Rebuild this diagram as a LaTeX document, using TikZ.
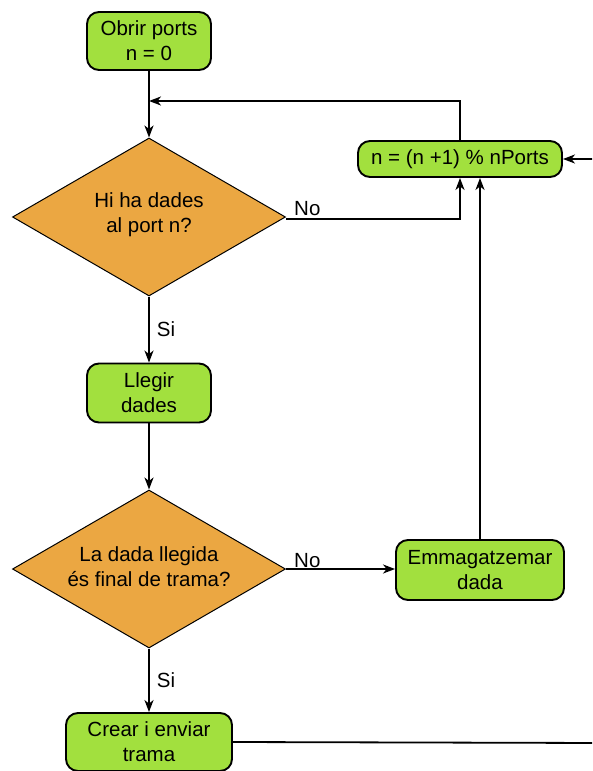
\documentclass[tikz,border=0pt]{standalone}
\usepackage{fontspec}
\setmainfont{Liberation Sans}
\usetikzlibrary{shapes.geometric,arrows.meta}
\definecolor{boxgreen}{RGB}{162, 224, 62}
\definecolor{decorange}{RGB}{235, 167, 66}

\tikzset{
  procbox/.style={draw=black, line width=1.9pt, fill=boxgreen, rounded corners=12pt,
    align=center, inner sep=2pt, font=\fontsize{20.5}{25}\selectfont},
  decbox/.style={draw=black, line width=1pt, fill=decorange, shape=diamond,
    minimum width=273pt, minimum height=158pt, inner sep=0pt},
  dectext/.style={align=center, font=\fontsize{20.5}{25}\selectfont},
  flow/.style={line width=1.8pt, -{Stealth[length=12pt,width=9pt,inset=3.5pt]}},
  lbl/.style={font=\fontsize{20.5}{25}\selectfont, inner sep=1pt}
}

\begin{document}
\begin{tikzpicture}[x=1pt, y=-1pt]
        \useasboundingbox (0, 0) rectangle (592, 771);
        \clip (0, 0) rectangle (592, 771);

        % Nodes
        \node[procbox, minimum width=124pt, minimum height=58pt] (obrir) at (149, 41) {Obrir ports\\n = 0};
        \node[decbox] (hiha) at (149, 217) {};
        \node[dectext] (hihatext) at (149, 215) {Hi ha dades\\al port n?};
        \node[procbox, minimum width=124pt, minimum height=59pt] (llegir) at (149, 393) {Llegir\\dades};
        \node[decbox] (final) at (149, 569) {};
        \node[dectext] (finaltext) at (149, 567) {La dada llegida\\és final de trama?};
        \node[procbox, minimum width=168pt, minimum height=60pt] (emmag) at (480, 570) {Emmagatzemar\\dada};
        \node[procbox, minimum width=166pt, minimum height=58pt] (crear) at (149, 742) {Crear i enviar\\trama};
        \node[procbox, minimum width=204pt, minimum height=36pt] (incr) at (460, 159) {n = (n +1) \% nPorts};

        \coordinate (retorn) at (149, 101);
        \coordinate (dreta) at (605, 743);

        % Connectors
        \draw[flow] (obrir) -- (hiha);
        \draw[flow] (incr.north) |- (retorn);
        \draw[flow] ([yshift=-2pt]hiha.east) -| (incr.south);
        \node[lbl, anchor=south west] (nohiha) at ([xshift=7pt]hiha.east) {No};
        \draw[flow] (hiha.south) -- node[lbl, right=6pt] (sihiha) {Si} (llegir);
        \draw[flow] (llegir) -- (final);
        \draw[flow] (final.east) -- (final.east -| emmag.west);
        \node[lbl, anchor=south west] (nofinal) at ([xshift=7pt]final.east) {No};
        \draw[flow] (final.south) -- node[lbl, right=6pt] (sifinal) {Si} (crear);
        \draw[flow] (emmag.north) -- (emmag.north |- incr.south);
        \draw[flow] (crear.east) -- (dreta) |- (incr.east);
\end{tikzpicture}
\end{document}
